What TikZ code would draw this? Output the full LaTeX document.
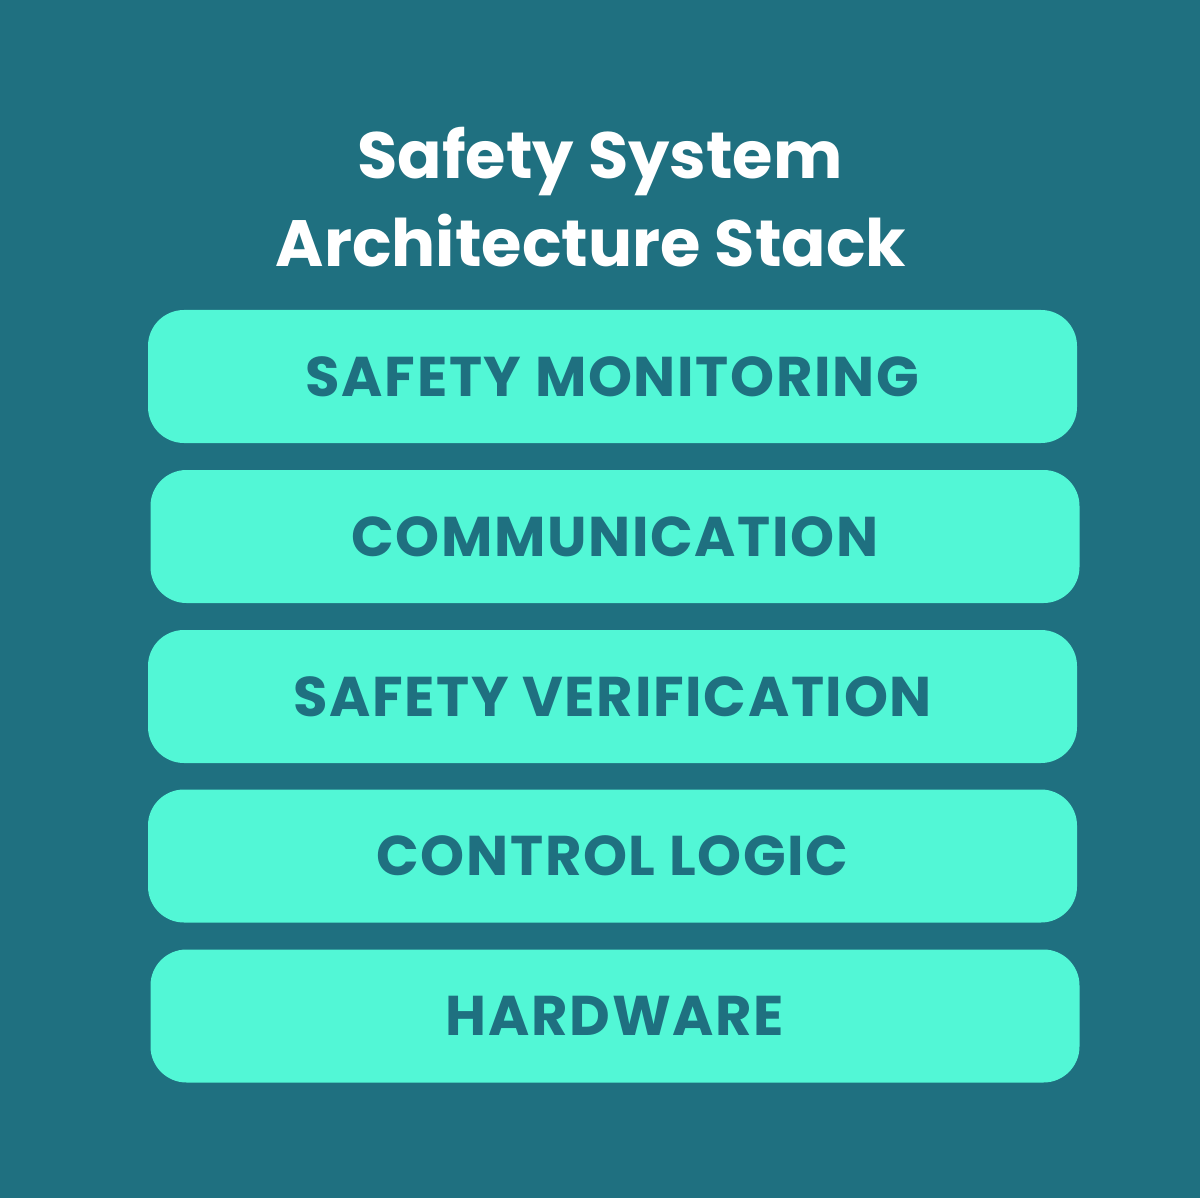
\documentclass[tikz,border=0pt]{standalone}
\usepackage{fontspec}
\setmainfont{Poppins}
\newfontfamily\layerfont[LetterSpace=3]{Poppins}
\definecolor{bgteal}{HTML}{1F7080}
\definecolor{layerfill}{HTML}{52F7D6}
\begin{document}
\begin{tikzpicture}[x=1pt,y=-1pt,
  title/.style={anchor=base,text=white,font=\fontsize{65.5}{66}\selectfont\bfseries,inner sep=0pt},
  layer/.style={fill=layerfill,draw=none,rounded corners=36pt,minimum width=929pt,minimum height=133pt,inner sep=0pt,
     text=bgteal,font=\layerfont\fontsize{56}{56}\selectfont\bfseries,text height=39pt,text depth=0pt}]
\fill[bgteal] (0,0) rectangle (1200,1198);
\useasboundingbox (0,0) rectangle (1200,1198);
\node[title] (t1) at (600,179) {Safety System};
\node[title] (t2) at (591,267) {Architecture Stack};
\node[layer] (l1) at (612.5,376.5) {SAFETY MONITORING};
\node[layer] (l2) at (615,536.5) {COMMUNICATION};
\node[layer] (l3) at (612.5,696.5) {SAFETY VERIFICATION};
\node[layer] (l4) at (612.5,856) {CONTROL LOGIC};
\node[layer] (l5) at (615,1016) {HARDWARE};
\end{tikzpicture}
\end{document}
